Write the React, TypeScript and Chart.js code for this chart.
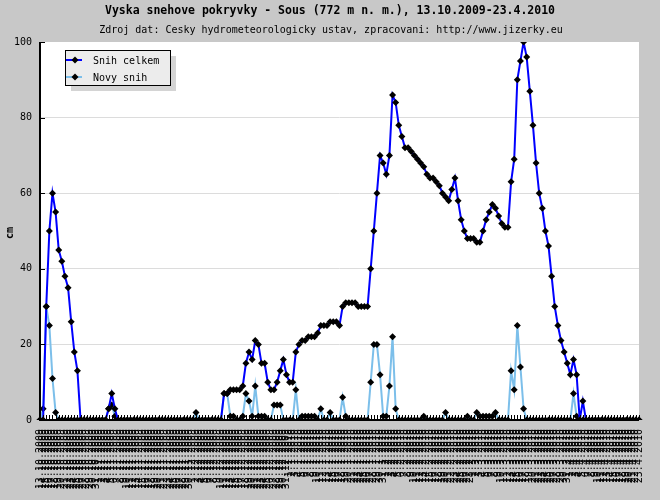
import React, { useEffect, useRef } from "react";
import { Chart, registerables } from "chart.js";

Chart.register(...registerables);

const TITLE = "Vyska snehove pokryvky - Sous (772 m n. m.), 13.10.2009-23.4.2010";
const SUBTITLE = "Zdroj dat: Cesky hydrometeorologicky ustav, zpracovani: http://www.jizerky.eu";
const Y_TITLE = "cm";
const SERIES_NAMES = ["Snih celkem", "Novy snih"];

// date range 13.10.2009 - 23.4.2010
const START_DAY = 13;
const START_MONTH = 10;
const START_YEAR = 2009;
const MONTH_LENGTHS = [31, 28, 31, 30, 31, 30, 31, 31, 30, 31, 30, 31];

const Y_MIN = 0;
const Y_MAX = 100;
const Y_STEP = 20;

// Snih celkem (total snow depth, cm), one value per day
const SNIH_CELKEM = [
  0, 0, 30, 50, 60, 55, 45, 42, 38, 35,
  26, 18, 13, 0, 0, 0, 0, 0, 0, 0,
  0, 0, 3, 7, 3, 0, 0, 0, 0, 0,
  0, 0, 0, 0, 0, 0, 0, 0, 0, 0,
  0, 0, 0, 0, 0, 0, 0, 0, 0, 0,
  0, 0, 0, 0, 0, 0, 0, 0, 0, 7,
  7, 8, 8, 8, 8, 9, 15, 18, 16, 21,
  20, 15, 15, 10, 8, 8, 10, 13, 16, 12,
  10, 10, 18, 20, 21, 21, 22, 22, 22, 23,
  25, 25, 25, 26, 26, 26, 25, 30, 31, 31,
  31, 31, 30, 30, 30, 30, 40, 50, 60, 70,
  68, 65, 70, 86, 84, 78, 75, 72, 72, 71,
  70, 69, 68, 67, 65, 64, 64, 63, 62, 60,
  59, 58, 61, 64, 58, 53, 50, 48, 48, 48,
  47, 47, 50, 53, 55, 57, 56, 54, 52, 51,
  51, 63, 69, 90, 95, 100, 96, 87, 78, 68,
  60, 56, 50, 46, 38, 30, 25, 21, 18, 15,
  12, 16, 12, 0, 5, 0, 0, 0, 0, 0,
  0, 0, 0, 0, 0, 0, 0, 0, 0, 0,
  0, 0, 0,
];

// Novy snih (new snow, cm)
const NOVY_SNIH = [
  0, 3, 30, 25, 11, 2, 0, 0, 0, 0,
  0, 0, 0, 0, 0, 0, 0, 0, 0, 0,
  0, 0, 3, 4, 1, 0, 0, 0, 0, 0,
  0, 0, 0, 0, 0, 0, 0, 0, 0, 0,
  0, 0, 0, 0, 0, 0, 0, 0, 0, 0,
  2, 0, 0, 0, 0, 0, 0, 0, 0, 7,
  7, 1, 1, 0, 0, 1, 7, 5, 1, 9,
  1, 1, 1, 0, 0, 4, 4, 4, 0, 0,
  0, 0, 8, 0, 1, 1, 1, 1, 1, 0,
  3, 0, 0, 2, 0, 0, 0, 6, 1, 0,
  0, 0, 0, 0, 0, 0, 10, 20, 20, 12,
  1, 1, 9, 22, 3, 0, 0, 0, 0, 0,
  0, 0, 0, 1, 0, 0, 0, 0, 0, 0,
  2, 0, 0, 0, 0, 0, 0, 1, 0, 0,
  2, 1, 1, 1, 1, 1, 2, 0, 0, 0,
  0, 13, 8, 25, 14, 3, 0, 0, 0, 0,
  0, 0, 0, 0, 0, 0, 0, 0, 0, 0,
  0, 7, 1, 0, 0, 0, 0, 0, 0, 0,
  0, 0, 0, 0, 0, 0, 0, 0, 0, 0,
  0, 0, 0,
];

const COLOR_TOTAL = "#0000ff";
const COLOR_NEW = "#7cbfea";
const BG = "#c8c8c8";
const MONO = "'DejaVu Sans Mono', monospace";

function buildDateLabels(count: number): string[] {
  const out: string[] = [];
  let d = START_DAY;
  let m = START_MONTH;
  let y = START_YEAR;
  for (let i = 0; i < count; i++) {
    out.push(`${d}.${m}.${y}`);
    d++;
    if (d > MONTH_LENGTHS[m - 1]) {
      d = 1;
      m++;
      if (m > 12) {
        m = 1;
        y++;
      }
    }
  }
  return out;
}

const DATE_LABELS = buildDateLabels(SNIH_CELKEM.length);

function diamond(ctx: CanvasRenderingContext2D, x: number, y: number, r: number) {
  ctx.beginPath();
  ctx.moveTo(x, y - r);
  ctx.lineTo(x + r, y);
  ctx.lineTo(x, y + r);
  ctx.lineTo(x - r, y);
  ctx.closePath();
  ctx.fill();
}

const decorPlugin = {
  id: "decor",
  beforeDraw(chart: any) {
    const ctx = chart.ctx as CanvasRenderingContext2D;
    const a = chart.chartArea;
    ctx.save();
    ctx.fillStyle = BG;
    ctx.fillRect(0, 0, chart.width, chart.height);
    ctx.fillStyle = "#ffffff";
    ctx.fillRect(a.left, a.top, a.right - a.left, a.bottom - a.top);
    ctx.restore();
  },
  afterDraw(chart: any) {
    const ctx = chart.ctx as CanvasRenderingContext2D;
    const a = chart.chartArea;
    const xs = chart.scales.x;
    const ys = chart.scales.y;
    ctx.save();
    // axes
    ctx.strokeStyle = "#000";
    ctx.lineWidth = 2;
    ctx.beginPath();
    ctx.moveTo(a.left, a.top);
    ctx.lineTo(a.left, a.bottom);
    ctx.lineTo(a.right, a.bottom);
    ctx.stroke();
    // inside ticks
    ctx.lineWidth = 1;
    ctx.beginPath();
    for (let i = 0; i < DATE_LABELS.length; i++) {
      const px = Math.round(xs.getPixelForValue(i)) + 0.5;
      ctx.moveTo(px, a.bottom);
      ctx.lineTo(px, a.bottom - 5);
    }
    for (let v = Y_MIN; v <= Y_MAX; v += Y_STEP) {
      const py = Math.round(ys.getPixelForValue(v)) + 0.5;
      ctx.moveTo(a.left, py);
      ctx.lineTo(a.left + 5, py);
    }
    ctx.stroke();

    // titles
    ctx.fillStyle = "#000";
    ctx.textAlign = "center";
    ctx.textBaseline = "middle";
    ctx.font = `bold 11.5px ${MONO}`;
    ctx.fillText(TITLE, 330, 11);
    ctx.font = `10px ${MONO}`;
    ctx.fillText(SUBTITLE, 331, 30);

    // y title
    ctx.save();
    ctx.translate(10, 233);
    ctx.rotate(-Math.PI / 2);
    ctx.font = `bold 10px ${MONO}`;
    ctx.fillText(Y_TITLE, 0, 0);
    ctx.restore();

    // legend
    const lx = 65, ly = 50, lw = 105, lh = 35;
    ctx.fillStyle = "#d4d4d4";
    ctx.fillRect(lx + 6, ly + 6, lw, lh);
    ctx.fillStyle = "#ececec";
    ctx.fillRect(lx, ly, lw, lh);
    ctx.strokeStyle = "#000";
    ctx.lineWidth = 1;
    ctx.strokeRect(lx + 0.5, ly + 0.5, lw, lh);
    const rows = [
      { name: SERIES_NAMES[0], color: COLOR_TOTAL, y: 60 },
      { name: SERIES_NAMES[1], color: COLOR_NEW, y: 77 },
    ];
    for (const r of rows) {
      ctx.strokeStyle = r.color;
      ctx.lineWidth = 2;
      ctx.beginPath();
      ctx.moveTo(66, r.y);
      ctx.lineTo(82, r.y);
      ctx.stroke();
      ctx.fillStyle = "#000";
      diamond(ctx, 75, r.y, 3.5);
      ctx.font = `10px ${MONO}`;
      ctx.textAlign = "left";
      ctx.textBaseline = "middle";
      ctx.fillText(r.name, 93, r.y + 1);
    }
    ctx.restore();
  },
};

export default function App() {
  const ref = useRef<HTMLCanvasElement | null>(null);

  useEffect(() => {
    document.body.style.margin = "0";
    const canvas = ref.current;
    if (!canvas) return;
    const chart = new Chart(canvas, {
      type: "line",
      data: {
        labels: DATE_LABELS,
        datasets: [
          {
            label: SERIES_NAMES[0],
            data: SNIH_CELKEM,
            borderColor: COLOR_TOTAL,
            backgroundColor: COLOR_TOTAL,
            borderWidth: 2,
            tension: 0,
            fill: false,
            pointStyle: "rectRot",
            pointRadius: 3.5,
            pointBorderWidth: 0,
            pointBackgroundColor: "#000",
            pointBorderColor: "#000",
          },
          {
            label: SERIES_NAMES[1],
            data: NOVY_SNIH,
            borderColor: COLOR_NEW,
            backgroundColor: COLOR_NEW,
            borderWidth: 2,
            tension: 0,
            fill: false,
            pointStyle: "rectRot",
            pointRadius: 3.5,
            pointBorderWidth: 0,
            pointBackgroundColor: "#000",
            pointBorderColor: "#000",
          },
        ],
      },
      options: {
        responsive: false,
        animation: false,
        devicePixelRatio: 1,
        layout: { padding: { top: 42, right: 19, left: 0, bottom: 0 } },
        plugins: {
          legend: { display: false },
          title: { display: false },
          tooltip: { enabled: false },
        },
        scales: {
          x: {
            type: "category",
            offset: false,
            grid: { display: false, drawTicks: false },
            border: { display: false },
            ticks: {
              autoSkip: false,
              maxRotation: 90,
              minRotation: 90,
              padding: 9,
              color: "#000",
              font: { family: MONO, size: 10 },
            },
            afterFit: (scale: any) => {
              scale.height = 80;
            },
          },
          y: {
            min: Y_MIN,
            max: Y_MAX,
            grid: {
              drawTicks: false,
              color: (c: any) =>
                c.tick && (c.tick.value === Y_MIN || c.tick.value === Y_MAX)
                  ? "rgba(0,0,0,0)"
                  : "#dcdcdc",
              lineWidth: 1,
            },
            border: { display: false },
            ticks: {
              stepSize: Y_STEP,
              padding: 8,
              color: "#000",
              font: { family: MONO, size: 10 },
            },
            afterFit: (scale: any) => {
              scale.width = 40;
            },
          },
        },
      },
      plugins: [decorPlugin],
    });
    return () => chart.destroy();
  }, []);

  return <canvas ref={ref} width={660} height={500} style={{ display: "block" }} />;
}
